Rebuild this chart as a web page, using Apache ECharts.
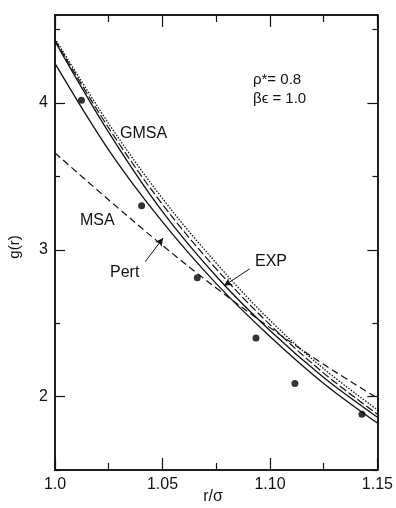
<!DOCTYPE html>
<html>
<head>
<meta charset="utf-8">
<script src="https://cdn.jsdelivr.net/npm/echarts@6/dist/echarts.min.js"></script>
<style>html,body{margin:0;padding:0;background:#fff;}#c{width:396px;height:508px;}</style>
</head>
<body>
<div id="c"></div>
<script>
// r/sigma grid for the theory curves
const xGrid = [1.0, 1.025, 1.05, 1.075, 1.10, 1.125, 1.15];
const pertY = [4.27, 3.68, 3.19, 2.77, 2.41, 2.09, 1.82];
const solidUpperY = [4.42, 3.80, 3.26, 2.82, 2.45, 2.13, 1.86];
const expY = [4.43, 3.83, 3.31, 2.87, 2.49, 2.16, 1.88];
const gmsaY = [4.44, 3.86, 3.35, 2.91, 2.52, 2.19, 1.91];
const msaY = [3.66, 3.34, 3.03, 2.74, 2.47, 2.22, 1.99];
// simulation points
const simX = [1.0123, 1.0403, 1.0662, 1.0935, 1.1116, 1.1428];
const simY = [4.02, 3.30, 2.81, 2.40, 2.09, 1.88];
// ticks
const yMajor = [2, 3, 4];
const yMinor = [1.5, 2.5, 3.5, 4.5];
const xMajor = [1.0, 1.05, 1.10, 1.15];
const xMinor = [1.025, 1.075, 1.125];
const xLabels = ['1.0', '1.05', '1.10', '1.15'];

const FONT = '"Liberation Sans", Arial, sans-serif';
const pair = (xs, ys) => xs.map((x, i) => [x, ys[i]]);

function xAx(pos, ticks, len, labels) {
  return {
    type: 'value', position: pos, min: 1.0, max: 1.15, gridIndex: 0,
    axisLine: { show: true, lineStyle: { color: '#111', width: 1.5 } },
    axisTick: { show: true, inside: true, length: len, customValues: ticks, lineStyle: { color: '#111', width: 1.2 } },
    axisLabel: labels ? {
      show: true, customValues: xMajor, margin: 7, color: '#111', fontSize: 16, fontFamily: FONT,
      formatter: v => { const i = xMajor.findIndex(t => Math.abs(t - v) < 1e-6); return i >= 0 ? xLabels[i] : ''; }
    } : { show: false },
    splitLine: { show: false }
  };
}
function yAx(pos, ticks, len, labels) {
  return {
    type: 'value', position: pos, min: 1.5, max: 4.6, gridIndex: 0,
    axisLine: { show: true, onZero: false, lineStyle: { color: '#111', width: 1.5 } },
    axisTick: { show: true, inside: true, length: len, customValues: ticks, lineStyle: { color: '#111', width: 1.2 } },
    axisLabel: labels ? { show: true, customValues: yMajor, margin: 7, color: '#111', fontSize: 16, fontFamily: FONT,
      formatter: v => String(Math.round(v)) } : { show: false },
    splitLine: { show: false }
  };
}

const chart = echarts.init(document.getElementById('c'), null, { renderer: 'canvas' });
const lineBase = { type: 'line', xAxisIndex: 0, yAxisIndex: 0, showSymbol: false, smooth: 0.35, silent: true };
chart.setOption({
  animation: false,
  backgroundColor: '#fff',
  grid: { left: 55, right: 14, top: 15, bottom: 38 },
  xAxis: [xAx('bottom', xMajor, 12, true), xAx('bottom', xMinor, 7, false),
          xAx('top', xMajor, 12, false), xAx('top', xMinor, 7, false)],
  yAxis: [yAx('left', yMajor, 10, true), yAx('left', yMinor, 5, false),
          yAx('right', yMajor, 10, false), yAx('right', yMinor, 5, false)],
  series: [
    Object.assign({}, lineBase, { name: 'Pert', data: pair(xGrid, pertY), lineStyle: { color: '#111', width: 1.3 } }),
    Object.assign({}, lineBase, { name: 'Solid', data: pair(xGrid, solidUpperY), lineStyle: { color: '#111', width: 1.3 } }),
    Object.assign({}, lineBase, { name: 'EXP', data: pair(xGrid, expY), lineStyle: { color: '#111', width: 1.2, type: [8, 3] } }),
    Object.assign({}, lineBase, { name: 'GMSA', data: pair(xGrid, gmsaY), lineStyle: { color: '#111', width: 1.3, type: [1.5, 1.5] } }),
    Object.assign({}, lineBase, { name: 'MSA', data: pair(xGrid, msaY), lineStyle: { color: '#111', width: 1.2, type: [7, 4] } }),
    { type: 'scatter', name: 'sim', data: pair(simX, simY), symbolSize: 7, itemStyle: { color: '#000' }, silent: true },
    { type: 'line', data: [], silent: true,
      markLine: { silent: true, symbol: ['none', 'arrow'], symbolSize: [6, 8], label: { show: false },
        lineStyle: { color: '#111', width: 1, type: 'solid' },
        data: [
          [{ coord: [1.042, 2.92] }, { coord: [1.0503, 3.08] }],
          [{ coord: [1.0905, 2.87] }, { coord: [1.0786, 2.755] }]
        ] } }
  ],
  graphic: [
    { type: 'text', left: 253, top: 72, style: { text: 'ρ*= 0.8', font: '15px ' + FONT, fill: '#111' } },
    { type: 'text', left: 253, top: 91, style: { text: 'βϵ = 1.0', font: '15px ' + FONT, fill: '#111' } },
    { type: 'text', left: 120, top: 126, style: { text: 'GMSA', font: '16px ' + FONT, fill: '#111' } },
    { type: 'text', left: 80, top: 213, style: { text: 'MSA', font: '16px ' + FONT, fill: '#111' } },
    { type: 'text', left: 110, top: 265, style: { text: 'Pert', font: '16px ' + FONT, fill: '#111' } },
    { type: 'text', left: 255, top: 254, style: { text: 'EXP', font: '16px ' + FONT, fill: '#111' } },
    { type: 'text', x: 15, y: 247, rotation: Math.PI / 2, style: { text: 'g(r)', font: '15px ' + FONT, fill: '#111', align: 'center', verticalAlign: 'middle' } },
    { type: 'text', x: 213, y: 497, style: { text: 'r/σ', font: '16px ' + FONT, fill: '#111', align: 'center', verticalAlign: 'middle' } }
  ]
});
</script>
</body>
</html>
